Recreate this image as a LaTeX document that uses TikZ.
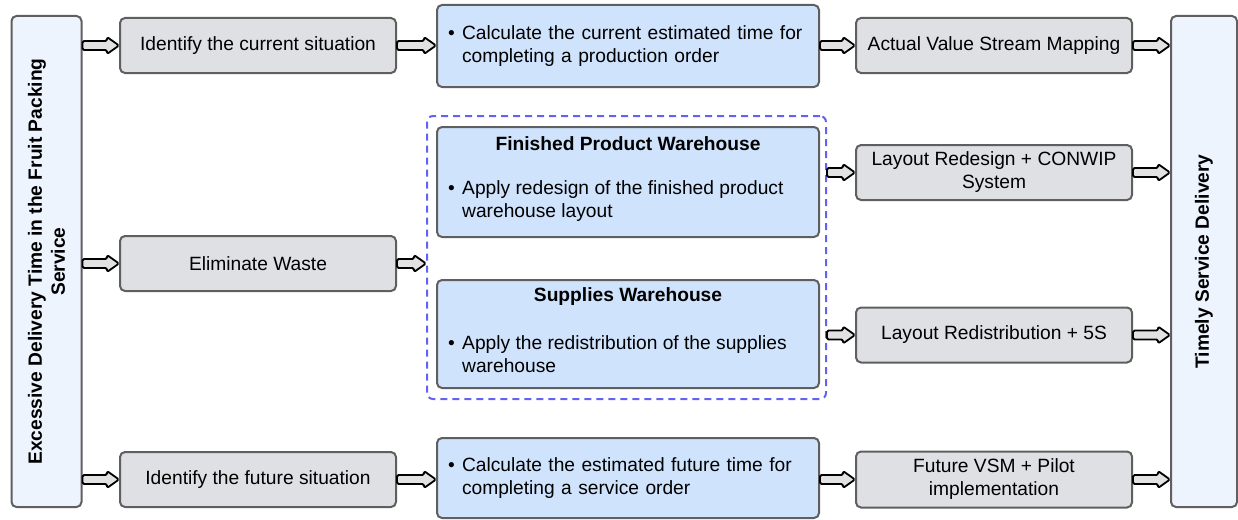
\documentclass[tikz,border=0pt]{standalone}
\usepackage{fontspec}
\setmainfont{Liberation Sans}
\usetikzlibrary{calc}

\definecolor{edgegrey}{HTML}{5F5F5F}
\definecolor{greybox}{HTML}{DEE0E4}
\definecolor{bluebox}{HTML}{D0E3FC}
\definecolor{sidebox}{HTML}{EEF4FE}
\definecolor{groupline}{HTML}{6262F4}
\definecolor{arrowfill}{HTML}{E2E2E2}

\tikzset{
  txt/.style={font=\fontsize{19.2}{23}\selectfont, inner sep=0pt},
  base/.style={txt, draw=edgegrey, line width=2pt, rounded corners=5pt},
  greystep/.style={base, fill=greybox, minimum width=276pt, minimum height=55pt, align=center},
  bluestep/.style={base, fill=bluebox, minimum width=382pt, text width=360pt, inner xsep=11pt, align=left},
  sidebar/.style={base, fill=sidebox},
  sidelabel/.style={txt, font=\fontsize{19.2}{23}\selectfont\bfseries, rotate=90, align=center},
  groupbox/.style={draw=groupline, line width=2pt, dash pattern=on 7pt off 5pt, rounded corners=6pt,
                   minimum width=399pt, minimum height=283pt, inner sep=0pt},
  fat/.style={draw=black, fill=arrowfill, line width=1.8pt, line join=round, rounded corners=1.5pt,
    to path={let \p1=(\tikztostart), \p2=(\tikztotarget) in
      (\x1,\y1+4.5pt) -- (\x2-12pt,\y1+4.5pt) -- (\x2-12pt,\y1+8.5pt) -- (\x2,\y1)
      -- (\x2-12pt,\y1-8.5pt) -- (\x2-12pt,\y1-4.5pt) -- (\x1,\y1-4.5pt) -- cycle}},
}

\newcommand{\bul}{\makebox[14pt][l]{\textbullet}}
\newcommand{\ind}{\hspace*{14pt}}

\begin{document}
\begin{tikzpicture}[x=1pt, y=-1pt]
\useasboundingbox (0,0) rectangle (1238,519);

% side bars
\node[sidebar, minimum width=70pt, minimum height=491pt] (L) at (46.5,261.5) {};
\node[sidelabel] (Ltxt) at (L.center) {Excessive Delivery Time in the Fruit Packing\\Service};
\node[sidebar, minimum width=66pt, minimum height=491pt] (T) at (1204,261.5) {};
\node[sidelabel] (Ttxt) at (T.center) {Timely Service Delivery};

% top row
\node[greystep] (I1) at (258,45.5) {Identify the current situation};
\node[bluestep, minimum height=82pt] (C1) at (628,46)
  {\bul Calculate the current estimated time for\\\ind completing a production order};
\node[greystep] (A1) at (994,45.5) {Actual Value Stream Mapping};

% middle row
\node[greystep] (E) at (258,263.5) {Eliminate Waste};
\node[groupbox] (D) at (626.5,257.5) {};
\node[base, fill=bluebox, minimum width=382pt, minimum height=110pt] (F) at (628,182) {};
\node[txt, font=\fontsize{19.2}{23}\selectfont\bfseries] (Ft) at (628,144) {Finished Product Warehouse};
\node[txt, anchor=west, align=left] (Fb) at (448,201.5)
  {\bul Apply redesign of the finished product\\\ind warehouse layout};
\node[base, fill=bluebox, minimum width=382pt, minimum height=108pt] (S) at (628,334) {};
\node[txt, font=\fontsize{19.2}{23}\selectfont\bfseries] (St) at (628,297) {Supplies Warehouse};
\node[txt, anchor=west, align=left] (Sb) at (448,354.5)
  {\bul Apply the redistribution of the supplies\\\ind warehouse};
\node[greystep] (R1) at (994,172.5) {Layout Redesign + CONWIP\\System};
\node[greystep] (R2) at (994,335) {Layout Redistribution + 5S};

% bottom row
\node[greystep] (I2) at (258,479.5) {Identify the future situation};
\node[bluestep, minimum height=80pt] (C2) at (628,478)
  {\bul Calculate the estimated future time for\\\ind completing a service order};
\node[greystep, minimum height=56pt] (V) at (994,479.5) {Future VSM + Pilot\\implementation};

% connectors
\draw[fat] (L.east |- I1.west) to (I1.west);
\draw[fat] (I1.east) to (C1.west |- I1.east);
\draw[fat] (C1.east |- A1.west) to (A1.west);
\draw[fat] (A1.east) to (T.west |- A1.east);

\draw[fat] (L.east |- E.west) to (E.west);
\draw[fat] (E.east) to (D.west |- E.east);
\draw[fat] (D.east |- R1.west) to (R1.west);
\draw[fat] (R1.east) to (T.west |- R1.east);
\draw[fat] (D.east |- R2.west) to (R2.west);
\draw[fat] (R2.east) to (T.west |- R2.east);

\draw[fat] (L.east |- I2.west) to (I2.west);
\draw[fat] (I2.east) to (C2.west |- I2.east);
\draw[fat] (C2.east |- V.west) to (V.west);
\draw[fat] (V.east) to (T.west |- V.east);
\end{tikzpicture}
\end{document}
